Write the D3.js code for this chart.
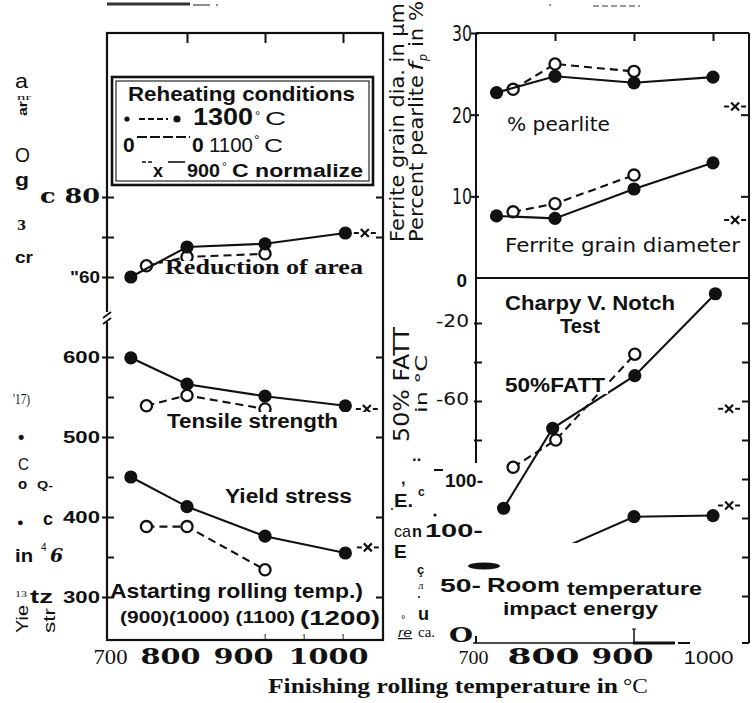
<!DOCTYPE html>
<html><head><meta charset="utf-8">
<script src="https://cdn.jsdelivr.net/npm/d3@7"></script>
<style>html,body{margin:0;padding:0;background:#fff;} svg{display:block;}</style>
</head><body>
<script>
// ---------------- data ----------------
// left panel (finishing rolling temperature, °C)
const frtSolidL = [728, 800, 900, 1003];
const frtOpenL = [748, 800, 900];
const raSolid = [60.0, 67.5, 68.3, 71.0];
const raOpen = [62.8, 65.0, 65.8];
const tsSolid = [599, 566, 551, 539];
const tsOpen = [539, 552, 535];
const ysSolid = [450, 413, 376, 355];
const ysOpen = [388, 388, 334];
const normFRT = 1028;
const raNorm = 71;
const tsNorm = 535;
const ysNorm = 362;
// right panel
const frtSolidR = [726, 800, 900, 1000];
const frtOpenR = [747, 800, 900];
const pearliteSolid = [22.7, 24.7, 23.9, 24.6];
const pearliteOpen = [23.1, 26.2, 25.3];
const pearliteNorm = 21.0;
const ferriteSolid = [7.6, 7.3, 10.9, 14.1];
const ferriteOpen = [8.1, 9.1, 12.6];
const ferriteNorm = 7.1;
const fattFRTSolid = [735, 797, 901, 1003];
const fattSolid = [-115, -74, -47, -5];
const fattFRTOpen = [747, 801, 901];
const fattOpen = [-94, -80, -36];
const fattNorm = -64;
const impactFRT = [800, 900, 1000];
const impactSolid = [80, 111, 112];
const impactNorm = 121;
// ticks / labels
const xTickValues = [700, 800, 900, 1000];
const xTickLabels = ["700", "800", "900", "1000"];
const xTopTicks = [800, 900, 1000];
const raTicks = [60, 70, 80];
const strTicks = [300, 350, 400, 450, 500, 550, 600];
const strLabelValues = [300, 400, 500, 600];
const strRightTicks = [300, 400, 500, 600];
const pfTicks = [10, 20, 30];
const pfLabelValues = [10, 20, 30];
const fattTicksL = [-20, -40, -60, -80];
const fattTicksR = [-20, -40, -60, -80, -100, -120, -140, -160];
const fattLabelValues = [-20, -60];
const bottomMarksL = [900, 950, 1000];

// ---------------- setup ----------------
const W = 754, H = 703;
const SANS = "'Liberation Sans', Arial, sans-serif";
const SERIF = "'Liberation Serif', 'Times New Roman', serif";
const WSERIF = "'DejaVu Serif', serif";
const LIGHT = "'DejaVu Sans', sans-serif";
const INK = "#111";

const svg = d3.select("body").append("svg").attr("width", W).attr("height", H)
  .style("background", "#fff");

// layout
const L = {x0: 107, x1: 383, y0: 33, y1: 640};
const R = {x0: 476, x1: 749, y0: 33, ym: 278, y1: 643};

const xL = d3.scaleLinear().domain([700, 1000]).range([109, 343]);
const yRA = d3.scaleLinear().domain([60, 80]).range([277, 197]);
const yStr = d3.scaleLinear().domain([300, 600]).range([597, 357]);
const xR = d3.scaleLinear().domain([700, 1000]).range([476, 713]);
const yPF = d3.scaleLinear().domain([0, 30]).range([278, 33]);
const yFATT = d3.scaleLinear().domain([-60, -20]).range([401, 323]);
const yImp = d3.scaleLinear().domain([0, 100]).range([641, 529]);

function T(x, y, s, o = {}) {
  let xs = x;
  if (o.len && o.a === "end") xs = x - o.len;
  else if (o.len && o.a === "middle") xs = x - o.len / 2;
  const t = svg.append("text").attr("x", xs).attr("y", y).text(s)
    .attr("font-family", o.f || SANS).attr("font-size", o.s || 16)
    .attr("font-weight", o.w || "normal").attr("fill", o.c || INK);
  if (o.a && !o.len) t.attr("text-anchor", o.a);
  if (o.len) t.attr("textLength", o.len).attr("lengthAdjust", "spacingAndGlyphs");
  if (o.rot) t.attr("transform", `rotate(${o.rot},${x},${y})`);
  if (o.st) t.attr("font-style", o.st);
  if (o.deco) t.attr("text-decoration", o.deco);
  return t;
}
function ln(x1, y1, x2, y2, w = 2, dash = null, c = INK) {
  return svg.append("line").attr("x1", x1).attr("y1", y1).attr("x2", x2).attr("y2", y2)
    .attr("stroke", c).attr("stroke-width", w).attr("stroke-dasharray", dash);
}
function rect(x, y, w, h, fill = "#fff", stroke = "none", sw = 0) {
  return svg.append("rect").attr("x", x).attr("y", y).attr("width", w).attr("height", h)
    .attr("fill", fill).attr("stroke", stroke).attr("stroke-width", sw);
}
function axisTicks(axisFn, scale, values, size, tx, ty, w = 2) {
  const a = axisFn(scale).tickValues(values).tickSize(size).tickFormat("");
  const g = svg.append("g").attr("transform", `translate(${tx},${ty})`).call(a);
  g.select(".domain").remove();
  g.selectAll("text").remove();
  g.selectAll("line").attr("stroke", INK).attr("stroke-width", w);
  return g;
}
function series(gx, gy, xs, ys, open) {
  const pts = xs.map((x, i) => [gx(x), gy(ys[i])]);
  svg.append("path").attr("d", d3.line()(pts)).attr("fill", "none")
    .attr("stroke", INK).attr("stroke-width", 2.1)
    .attr("stroke-dasharray", open ? "8,5" : null);
  svg.append("g").selectAll("circle").data(pts).enter().append("circle")
    .attr("cx", d => d[0]).attr("cy", d => d[1])
    .attr("r", open ? 5.6 : 6.6)
    .attr("fill", open ? "#fff" : INK)
    .attr("stroke", INK).attr("stroke-width", open ? 2.3 : 0);
}
function xmark(cx, cy) {
  ln(cx - 11, cy, cx - 6, cy, 2);
  ln(cx + 6, cy, cx + 11, cy, 2);
  ln(cx - 4, cy - 4, cx + 4, cy + 4, 2.2);
  ln(cx - 4, cy + 4, cx + 4, cy - 4, 2.2);
}

// ---------------- scan artifacts at top ----------------
ln(107, 4, 190, 4, 3, null, "#333");
ln(193, 5, 210, 5, 1.5, null, "#666");
svg.append("circle").attr("cx", 217).attr("cy", 5).attr("r", 1).attr("fill", "#666");
svg.append("circle").attr("cx", 550).attr("cy", 5).attr("r", 1).attr("fill", "#666");
ln(593, 6, 640, 6, 1.5, "6,3", "#777");

// ---------------- RIGHT PANEL ----------------
// frame
ln(R.x0, R.y0, R.x1, R.y0, 2);
ln(R.x0, R.y0, R.x0, R.y1, 2);
ln(R.x1, R.y0, R.x1, R.y1, 2);
ln(R.x0, R.ym, R.x1, R.ym, 2);
axisTicks(d3.axisBottom, xR, xTopTicks, 8, 0, R.y0);
axisTicks(d3.axisLeft, yPF, pfTicks, 5, R.x0, 0);
axisTicks(d3.axisRight, yPF, pfTicks, 3, R.x0, 0);
axisTicks(d3.axisLeft, yPF, [10, 20], 8, R.x1, 0);
axisTicks(d3.axisLeft, yFATT, fattTicksL, 2, R.x0, 0);
axisTicks(d3.axisRight, yFATT, fattTicksL, 6, R.x0, 0);
axisTicks(d3.axisLeft, yFATT, fattTicksR, 7, R.x1, 0);

// data
series(xR, yPF, frtOpenR, pearliteOpen, true);
series(xR, yPF, frtSolidR, pearliteSolid, false);
series(xR, yPF, frtOpenR, ferriteOpen, true);
series(xR, yPF, frtSolidR, ferriteSolid, false);
xmark(xR(normFRT), yPF(pearliteNorm));
xmark(xR(normFRT), yPF(ferriteNorm));
series(xR, yFATT, fattFRTOpen, fattOpen, true);
series(xR, yFATT, fattFRTSolid, fattSolid, false);
xmark(xR(normFRT) - 6, yFATT(fattNorm));
series(xR, yImp, impactFRT, impactSolid, false);
xmark(xR(normFRT) - 6, yImp(impactNorm));

// white overlays (OCR boxes)
rect(503, 289, 176, 24);
rect(556, 313, 48, 24);
rect(503, 372, 105, 22);
rect(388, 463, 96, 80);
rect(386, 543, 320, 93);

// bottom line of right panel
ln(473, R.y1, 675, R.y1, 1.6);
ln(633, R.y1, 675, R.y1, 3.2);
ln(678, R.y1, 690, R.y1, 2);
ln(742, R.y1, R.x1, R.y1, 2);
ln(xR(900), 629, xR(900), R.y1, 1.5);
ln(xR(900) - 2, 629, xR(900) + 2, 629, 1);

// texts right panel
T(404, 242, "Ferrite grain dia. in µm", {f: LIGHT, s: 19, rot: -90, len: 239});
T(423, 242, "Percent pearlite", {f: LIGHT, s: 19, rot: -90, len: 167});
T(423, 71, "f", {f: LIGHT, s: 19, rot: -90, st: "italic", len: 9});
T(427, 61, "p", {f: LIGHT, s: 12, rot: -90, st: "italic", len: 7});
T(423, 47, "in %", {f: LIGHT, s: 19, rot: -90, len: 46});
pfLabelValues.forEach(v => T(472, yPF(v) + 8, String(v), {f: LIGHT, s: 21, a: "end", len: 20}));
T(467, R.ym + 9, "0", {f: SANS, s: 19, w: "bold", a: "end"});
T(507, 131, "% pearlite", {f: LIGHT, s: 20, len: 103});
T(505, 252, "Ferrite grain diameter", {f: LIGHT, s: 20, len: 235});
T(505, 310, "Charpy V. Notch", {s: 20, w: "bold", len: 170});
T(560, 333, "Test", {s: 20, w: "bold", len: 40});
T(505, 392, "50%FATT", {s: 20, w: "bold", len: 100});
T(409, 442, "50% FATT", {f: LIGHT, s: 21, rot: -90, len: 115});
T(427, 413, "in °C", {f: LIGHT, s: 16, rot: -90, len: 58});
fattLabelValues.forEach(v => T(469, yFATT(v) + 4, String(v), {f: LIGHT, s: 18, a: "end", len: 33}));
// OCR remnants, lower right axis
T(401, 484, ",", {s: 16, w: "bold"});
T(413, 474, "¨", {s: 22, w: "bold"});
ln(434, 470, 443, 470, 2);
T(445, yFATT(-100) + 8, "100-", {s: 18, w: "bold", len: 38});
T(394, 507, "E.", {s: 19, w: "bold", len: 19});
T(418, 496, "c", {s: 12, w: "bold"});
svg.append("circle").attr("cx", 435).attr("cy", 515).attr("r", 1.6).attr("fill", INK);
svg.append("circle").attr("cx", 392).attr("cy", 509).attr("r", 1).attr("fill", INK);
T(394, yImp(100) + 8, "ca", {s: 17, len: 17});
T(412, yImp(100) + 8, "n", {s: 17, w: "bold", len: 10});
T(425, yImp(100) + 8, "100-", {s: 18, w: "bold", len: 58});
T(394, 558, "E", {s: 19, w: "bold"});
T(417, 574, "ç", {s: 13, w: "bold"});
T(418, 589, "л", {f: SERIF, s: 11});
svg.append("circle").attr("cx", 419).attr("cy", 597).attr("r", 1).attr("fill", INK);
T(418, 620, "u", {s: 18, w: "bold"});
T(401, 623, "°", {s: 11});
T(398, 637, "re", {s: 12, st: "italic", deco: "underline", len: 14});
T(418, 637, "ca.", {f: SERIF, s: 14, len: 17});
T(449, yImp(0) + 1, "O", {f: WSERIF, s: 21, w: "bold", len: 24});
svg.append("ellipse").attr("cx", 484).attr("cy", 566).attr("rx", 16).attr("ry", 3.5).attr("fill", INK);
T(440, yImp(50) + 7, "50-", {s: 19, w: "bold", len: 41});
T(487, 592, "Room", {s: 21, w: "bold", len: 73});
T(567, 595, "temperature", {s: 19, w: "bold", len: 135});
T(503, 615, "impact energy", {s: 19, w: "bold", len: 155});

// ---------------- LEFT PANEL ----------------
series(xL, yRA, frtOpenL, raOpen, true);
series(xL, yRA, frtSolidL, raSolid, false);
xmark(xL(normFRT), yRA(raNorm));
series(xL, yStr, frtOpenL, tsOpen, true);
series(xL, yStr, frtSolidL, tsSolid, false);
xmark(xL(normFRT) + 2, yStr(tsNorm));
series(xL, yStr, frtOpenL, ysOpen, true);
series(xL, yStr, frtSolidL, ysSolid, false);
xmark(xL(normFRT) + 3, yStr(ysNorm));

// overlays
rect(163, 261, 219, 18);
rect(163, 412, 210, 31);
rect(109, 578, 272, 60);
// legend box
rect(112, 77, 261, 108, "#fff", INK, 2.6);
rect(116, 81, 253, 100, "none", INK, 1.1);

// frame + ticks (on top of overlays)
rect(L.x0, L.y0, L.x1 - L.x0, L.y1 - L.y0, "none", INK, 2.2);
axisTicks(d3.axisBottom, xL, xTopTicks, 10, 0, L.y0);
axisTicks(d3.axisLeft, yRA, raTicks, 5, L.x0, 0);
axisTicks(d3.axisRight, yRA, raTicks, 7, L.x0, 0);
axisTicks(d3.axisLeft, yRA, [70, 80], 7, L.x1, 0);
axisTicks(d3.axisLeft, yStr, strLabelValues, 5, L.x0, 0);
axisTicks(d3.axisRight, yStr, strTicks, 7, L.x0, 0);
axisTicks(d3.axisLeft, yStr, strRightTicks, 7, L.x1, 0);
// axis break
rect(L.x0 - 4, 312, 8, 10);
ln(L.x0 - 4, 318, L.x0 + 4, 312, 1.8);
ln(L.x0 - 4, 324, L.x0 + 4, 318, 1.8);
// bottom tick marks shown as small "1"
bottomMarksL.forEach(v => T(xL(v), 641, "1", {f: SERIF, s: 10, a: "middle"}));

// legend content
T(128, 101, "Reheating conditions", {s: 20, w: "bold", len: 227});
svg.append("circle").attr("cx", 127).attr("cy", 119).attr("r", 2.6).attr("fill", INK);
ln(139, 119, 168, 119, 2.2, "6,3");
svg.append("circle").attr("cx", 177).attr("cy", 119).attr("r", 3.6).attr("fill", INK);
T(193, 125, "1300", {s: 24, w: "bold", len: 60});
T(255, 120, "°", {s: 13});
T(265, 125, "C", {s: 18, len: 21});
T(123, 152, "0", {s: 21, w: "bold"});
ln(137, 137, 190, 137, 2, "10,3");
T(192, 152, "0", {s: 21, w: "bold"});
T(209, 152, "1100", {s: 20, len: 44});
T(254, 145, "°", {s: 14});
T(264, 152, "C", {s: 18, len: 19});
ln(142, 162, 152, 162, 1.6, "4,2");
T(153, 177, "x", {s: 18, w: "bold"});
ln(168, 162, 185, 162, 1.6);
T(187, 177, "900", {s: 19, w: "bold", len: 33});
T(222, 171, "°", {s: 12});
T(232, 177, "C normalize", {s: 19, w: "bold", len: 131});

// labels
T(165, 274, "Reduction of area", {f: SERIF, s: 22, w: "bold", len: 198});
T(167, 428, "Tensile strength", {s: 20, w: "bold", len: 171});
T(225, 503, "Yield stress", {s: 20, w: "bold", len: 127});
T(110, 598, "Astarting rolling temp.)", {s: 21, w: "bold", len: 253});
T(120, 623, "(900)(1000) (1100)", {s: 17, w: "bold", len: 175});
T(300, 625, "(1200)", {s: 20, w: "bold", len: 80});
strLabelValues.forEach(v => T(100, yStr(v) + 6, String(v), {s: 17, w: "bold", a: "end", len: 37}));
T(40, yRA(80) + 6, "c 80", {f: WSERIF, s: 21, w: "bold", len: 60});
T(100, yRA(60) + 6, "\"60", {s: 16, w: "bold", a: "end", len: 30});

// OCR remnants on left margin
T(15, 88, "a", {s: 20, len: 13});
T(17, 100, "nr", {f: SERIF, s: 9, len: 14});
T(27, 116, "ar", {s: 13, w: "bold", rot: -90, len: 15});
T(15, 162, "O", {s: 20, len: 15});
T(15, 186, "g", {s: 19, w: "bold", len: 14});
T(17, 230, "3", {f: WSERIF, s: 13, w: "bold"});
T(15, 263, "cr", {s: 16, w: "bold", len: 18});
T(13, 404, "'17)", {f: SERIF, s: 15, len: 17});
T(18, 443, "•", {s: 18, w: "bold"});
T(18, 470, "C", {s: 16, len: 11});
T(18, 489, "o", {s: 15, w: "bold"});
T(37, 489, "Q-", {s: 11, w: "bold", len: 16});
T(17, 526, "●", {s: 11});
T(43, 525, "c", {s: 18, w: "bold"});
T(15, 562, "in", {s: 19, w: "bold", len: 18});
T(41, 551, "4", {s: 10});
T(50, 562, "6", {f: WSERIF, s: 19, w: "bold", st: "italic"});
T(15, 597, "13", {f: SERIF, s: 9, len: 12});
T(30, 603, "tz", {s: 19, w: "bold", len: 23});
T(28, 633, "Yie", {s: 16, rot: -90, len: 28});
T(55, 633, "str", {s: 16, rot: -90, len: 25});

// x tick labels (bottom), positioned through the scales
function xLabels(scale, dx, styles) {
  const a = d3.axisBottom(scale).tickValues(xTickValues).tickSize(0)
    .tickFormat((d, i) => xTickLabels[i]);
  const g = svg.append("g").attr("transform", "translate(0,664)").call(a);
  g.select(".domain").remove();
  g.selectAll("text").each(function (d, i) {
    const s = styles[i];
    d3.select(this).attr("text-anchor", "start").attr("y", 0).attr("dy", 0)
      .attr("x", dx[i] - s.len / 2)
      .attr("fill", INK).attr("font-family", s.f).attr("font-size", s.s)
      .attr("font-weight", s.w).attr("textLength", s.len).attr("lengthAdjust", "spacingAndGlyphs");
  });
}
xLabels(xL, [1, -17, -22, -15], [
  {f: SERIF, s: 22, w: "normal", len: 34},
  {f: WSERIF, s: 23, w: "bold", len: 60},
  {f: WSERIF, s: 23, w: "bold", len: 60},
  {f: WSERIF, s: 23, w: "bold", len: 80}]);
xLabels(xR, [-3, -12, -12, -5], [
  {f: SERIF, s: 19, w: "normal", len: 30},
  {f: WSERIF, s: 22, w: "bold", len: 72},
  {f: WSERIF, s: 22, w: "bold", len: 62},
  {f: SANS, s: 18, w: "normal", len: 50}]);

T(268, 693, "Finishing rolling temperature in", {f: SERIF, s: 22, w: "bold", len: 350});
T(623, 693, "°C", {f: SERIF, s: 22, len: 25});
</script>
</body></html>
